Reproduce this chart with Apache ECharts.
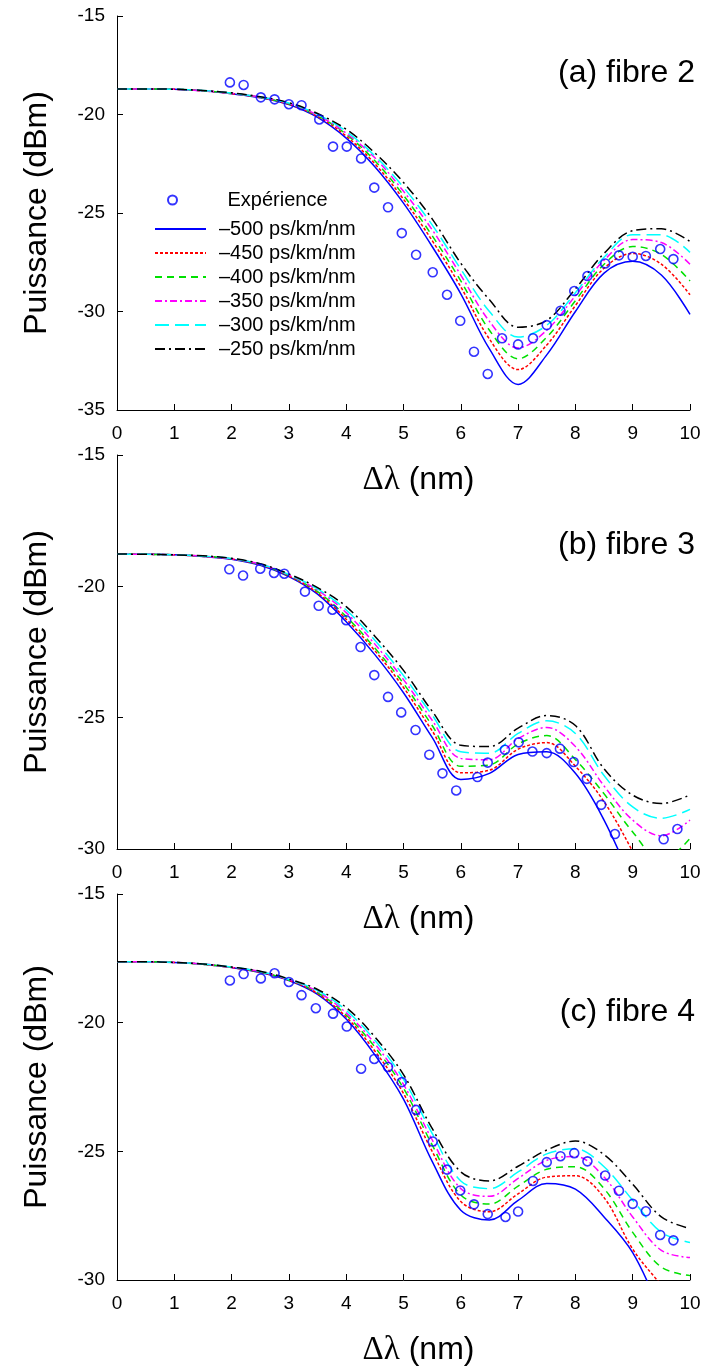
<!DOCTYPE html>
<html><head><meta charset="utf-8">
<script src="https://cdn.jsdelivr.net/npm/echarts@6/dist/echarts.min.js"></script>
<style>html,body{margin:0;padding:0;background:#fff}#c{width:708px;height:1368px}</style>
</head><body><div id="c"></div>
<script>
// shared wavelength sampling (nm)
const X = [0,0.5,1,1.5,2,2.5,3,3.5,4,4.5,5,5.5,6,6.5,7,7.5,8,8.5,9,9.5,10];
const lineNames = ['–500 ps/km/nm','–450 ps/km/nm','–400 ps/km/nm','–350 ps/km/nm','–300 ps/km/nm','–250 ps/km/nm'];
const expName = 'Expérience';
const panelLabels = ['(a) fibre 2','(b) fibre 3','(c) fibre 4'];
const yMins = [-35,-30,-30];

// panel (a) fibre 2
const a500 = [-18.7,-18.7,-18.72,-18.8,-18.95,-19.15,-19.5,-20.15,-21.2,-22.65,-24.5,-26.7,-29.1,-31.9,-33.7,-32.2,-30.0,-28.05,-27.45,-28.15,-30.15];
const a450 = [-18.7,-18.7,-18.72,-18.8,-18.94,-19.14,-19.48,-20.1,-21.1,-22.5,-24.3,-26.4,-28.75,-31.4,-32.95,-31.7,-29.7,-27.8,-27.05,-27.6,-29.15];
const a400 = [-18.7,-18.7,-18.72,-18.79,-18.93,-19.13,-19.46,-20.06,-21.0,-22.35,-24.1,-26.15,-28.45,-30.95,-32.4,-31.3,-29.45,-27.6,-26.7,-27.1,-28.45];
const a350 = [-18.7,-18.7,-18.72,-18.79,-18.92,-19.12,-19.44,-20.03,-20.95,-22.2,-23.9,-25.85,-28.15,-30.5,-31.85,-30.95,-29.2,-27.4,-26.35,-26.5,-27.6];
const a300 = [-18.7,-18.7,-18.72,-18.78,-18.91,-19.11,-19.42,-19.99,-20.85,-22.1,-23.7,-25.6,-27.85,-30.0,-31.3,-30.7,-29.05,-27.25,-26.1,-26.1,-27.0];
const a250 = [-18.7,-18.7,-18.72,-18.78,-18.9,-19.1,-19.4,-19.95,-20.75,-21.95,-23.45,-25.3,-27.55,-29.4,-30.8,-30.45,-28.85,-27.05,-25.9,-25.8,-26.45];
const aExpX = [1.97,2.21,2.51,2.75,3.0,3.22,3.53,3.77,4.01,4.26,4.49,4.73,4.97,5.22,5.51,5.76,5.99,6.23,6.47,6.72,7.0,7.26,7.5,7.74,7.98,8.21,8.52,8.76,9.0,9.23,9.48,9.71];
const aExpY = [-18.37,-18.5,-19.13,-19.23,-19.48,-19.53,-20.25,-21.63,-21.63,-22.23,-23.71,-24.71,-26.02,-27.12,-28.01,-29.15,-30.47,-32.04,-33.17,-31.36,-31.67,-31.36,-30.69,-29.96,-28.96,-28.2,-27.56,-27.15,-27.22,-27.18,-26.83,-27.34];

// panel (b) fibre 3
const b500 = [-18.77,-18.78,-18.8,-18.86,-18.97,-19.2,-19.63,-20.3,-21.35,-22.6,-24.05,-25.75,-27.35,-27.12,-26.4,-26.3,-27.12,-28.9,-31.3,-34,-37];
const b450 = [-18.77,-18.78,-18.8,-18.86,-18.96,-19.18,-19.61,-20.25,-21.25,-22.45,-23.85,-25.5,-27.1,-27.0,-26.2,-25.95,-26.85,-28.2,-30.1,-32.3,-34];
const b400 = [-18.77,-18.78,-18.8,-18.85,-18.95,-19.17,-19.59,-20.2,-21.15,-22.35,-23.7,-25.3,-26.85,-26.8,-26.0,-25.68,-26.6,-27.9,-29.35,-30.45,-29.6];
const b350 = [-18.77,-18.78,-18.8,-18.85,-18.95,-19.16,-19.57,-20.15,-21.0,-22.2,-23.55,-25.1,-26.55,-26.6,-25.8,-25.37,-26.1,-27.6,-28.9,-29.5,-28.9];
const b300 = [-18.77,-18.78,-18.8,-18.85,-18.94,-19.15,-19.55,-20.1,-20.9,-22.05,-23.4,-24.9,-26.3,-26.35,-25.6,-25.12,-25.6,-27.2,-28.4,-28.83,-28.49];
const b250 = [-18.77,-18.78,-18.8,-18.84,-18.93,-19.14,-19.53,-20.05,-20.77,-21.9,-23.2,-24.75,-26.05,-26.1,-25.4,-24.92,-25.3,-26.95,-27.95,-28.27,-27.94];
const bExpX = [1.96,2.2,2.5,2.74,2.92,3.28,3.52,3.76,4.0,4.25,4.49,4.73,4.96,5.21,5.45,5.68,5.92,6.29,6.47,6.77,7.01,7.25,7.5,7.73,7.97,8.2,8.45,8.69,9.54,9.78];
const bExpY = [-19.35,-19.59,-19.33,-19.49,-19.52,-20.2,-20.74,-20.89,-21.29,-22.31,-23.38,-24.21,-24.8,-25.47,-26.41,-27.12,-27.77,-27.26,-26.71,-26.22,-25.94,-26.29,-26.35,-26.18,-26.69,-27.33,-28.32,-29.43,-29.63,-29.24];

// panel (c) fibre 4
const c500 = [-17.63,-17.63,-17.66,-17.73,-17.86,-18.05,-18.36,-18.9,-19.86,-21.25,-22.97,-25.39,-27.29,-27.67,-26.91,-26.25,-26.47,-27.55,-28.94,-31.3,-34];
const c450 = [-17.63,-17.63,-17.66,-17.73,-17.86,-18.04,-18.35,-18.87,-19.78,-21.1,-22.75,-25.0,-26.95,-27.35,-26.65,-26.0,-25.95,-26.8,-28.8,-30.2,-31.5];
const c400 = [-17.63,-17.63,-17.66,-17.73,-17.85,-18.03,-18.34,-18.83,-19.7,-20.95,-22.55,-24.75,-26.7,-27.05,-26.35,-25.7,-25.6,-26.45,-28.15,-29.5,-29.83];
const c350 = [-17.63,-17.63,-17.66,-17.72,-17.85,-18.02,-18.33,-18.79,-19.62,-20.82,-22.4,-24.55,-26.45,-26.75,-26.05,-25.35,-25.2,-26.0,-27.55,-28.85,-29.13];
const c300 = [-17.63,-17.63,-17.66,-17.72,-17.84,-18.01,-18.32,-18.75,-19.52,-20.68,-22.2,-24.3,-26.15,-26.45,-25.8,-25.1,-24.9,-25.6,-26.9,-28.15,-28.54];
const c250 = [-17.63,-17.63,-17.66,-17.72,-17.84,-18.0,-18.3,-18.71,-19.41,-20.55,-22.02,-24.11,-25.8,-26.15,-25.58,-24.95,-24.6,-25.13,-26.28,-27.55,-28.0];
const cExpX = [1.97,2.21,2.51,2.75,3.0,3.22,3.47,3.77,4.01,4.26,4.49,4.73,4.97,5.22,5.51,5.76,5.99,6.23,6.47,6.78,7.0,7.26,7.5,7.74,7.98,8.21,8.52,8.76,9.0,9.23,9.48,9.71];
const cExpY = [-18.36,-18.11,-18.28,-18.08,-18.42,-18.93,-19.44,-19.65,-20.15,-21.79,-21.41,-21.72,-22.31,-23.39,-24.62,-25.71,-26.52,-27.06,-27.44,-27.55,-27.34,-26.15,-25.42,-25.19,-25.07,-25.39,-25.94,-26.53,-27.04,-27.33,-28.25,-28.46];

const panels = [
  {lines:[a500,a450,a400,a350,a300,a250], ex:aExpX, ey:aExpY},
  {lines:[b500,b450,b400,b350,b300,b250], ex:bExpX, ey:bExpY},
  {lines:[c500,c450,c400,c350,c300,c250], ex:cExpX, ey:cExpY}
];

const FONT = 'Liberation Sans, Arial, sans-serif';
const styles = [
  {color:'#0000ff', type:'solid'},
  {color:'#ff0000', type:[3,2]},
  {color:'#00e000', type:[7,5]},
  {color:'#ff00ff', type:[7,3,2,3]},
  {color:'#00ffff', type:[14,6]},
  {color:'#000000', type:[10,4,2,4]}
];
const gridTops = [16,455,894];
const titleTops = [57,529,996];

const grid=[], xAxis=[], yAxis=[], series=[], title=[];
panels.forEach((p,i)=>{
  grid.push({left:117, right:18, top:gridTops[i], height:394});
  xAxis.push({type:'value', gridIndex:i, min:0, max:10, interval:1,
    name:'{g|Δλ} (nm)', nameLocation:'middle', nameGap:54,
    nameTextStyle:{fontSize:32, color:'#000', fontFamily:FONT, padding:[0,0,0,30],
      rich:{g:{fontSize:33, color:'#000', fontFamily:'Liberation Serif, DejaVu Serif, serif'}}},
    axisLine:{lineStyle:{color:'#000', width:1}},
    axisTick:{inside:true, length:6, lineStyle:{color:'#000'}},
    axisLabel:{fontSize:19, color:'#000', margin:14, fontFamily:FONT},
    splitLine:{show:false}});
  yAxis.push({type:'value', gridIndex:i, min:yMins[i], max:-15, interval:5,
    name:'Puissance (dBm)', nameLocation:'middle', nameGap:64, nameRotate:90,
    nameTextStyle:{fontSize:32, color:'#000', fontFamily:FONT},
    axisLine:{show:true, lineStyle:{color:'#000', width:1}},
    axisTick:{inside:true, length:6, lineStyle:{color:'#000'}},
    axisLabel:{fontSize:19, color:'#000', margin:12, fontFamily:FONT},
    splitLine:{show:false}});
  title.push({text:panelLabels[i], right:13, top:titleTops[i], padding:0,
    textStyle:{fontSize:32, lineHeight:32, fontWeight:'normal', color:'#000', fontFamily:FONT}});
  p.lines.forEach((arr,k)=>{
    series.push({type:'line', name:lineNames[k], xAxisIndex:i, yAxisIndex:i,
      data:X.map((x,j)=>[x,arr[j]]), symbol:'none', smooth:0.35, clip:true,
      lineStyle:{color:styles[k].color, type:styles[k].type, width:1.5},
      itemStyle:{color:styles[k].color}, z:2+k});
  });
  series.push({type:'scatter', name:expName, xAxisIndex:i, yAxisIndex:i,
    data:p.ex.map((x,j)=>[x,p.ey[j]]), symbol:'circle', symbolSize:9,
    itemStyle:{color:'rgba(255,255,255,0)', borderColor:'#0000ff', borderWidth:1.6}, z:10});
});

const chart = echarts.init(document.getElementById('c'), null, {renderer:'canvas'});
chart.setOption({
  animation:false,
  backgroundColor:'#fff',
  title:title,
  legend:[
    {data:[expName], left:162, top:185, orient:'vertical', itemWidth:46, itemHeight:9,
      selectedMode:false,
      textStyle:{fontSize:20, lineHeight:20, color:'#000', fontFamily:FONT, padding:[0,0,0,27]}},
    {data:lineNames, left:149, top:214, orient:'vertical', itemWidth:51, itemHeight:14, itemGap:4,
      selectedMode:false, itemStyle:{opacity:0},
      textStyle:{fontSize:20, lineHeight:20, color:'#000', fontFamily:FONT, padding:[0,0,0,8]}}
  ],
  grid:grid, xAxis:xAxis, yAxis:yAxis, series:series
});
</script></body></html>
